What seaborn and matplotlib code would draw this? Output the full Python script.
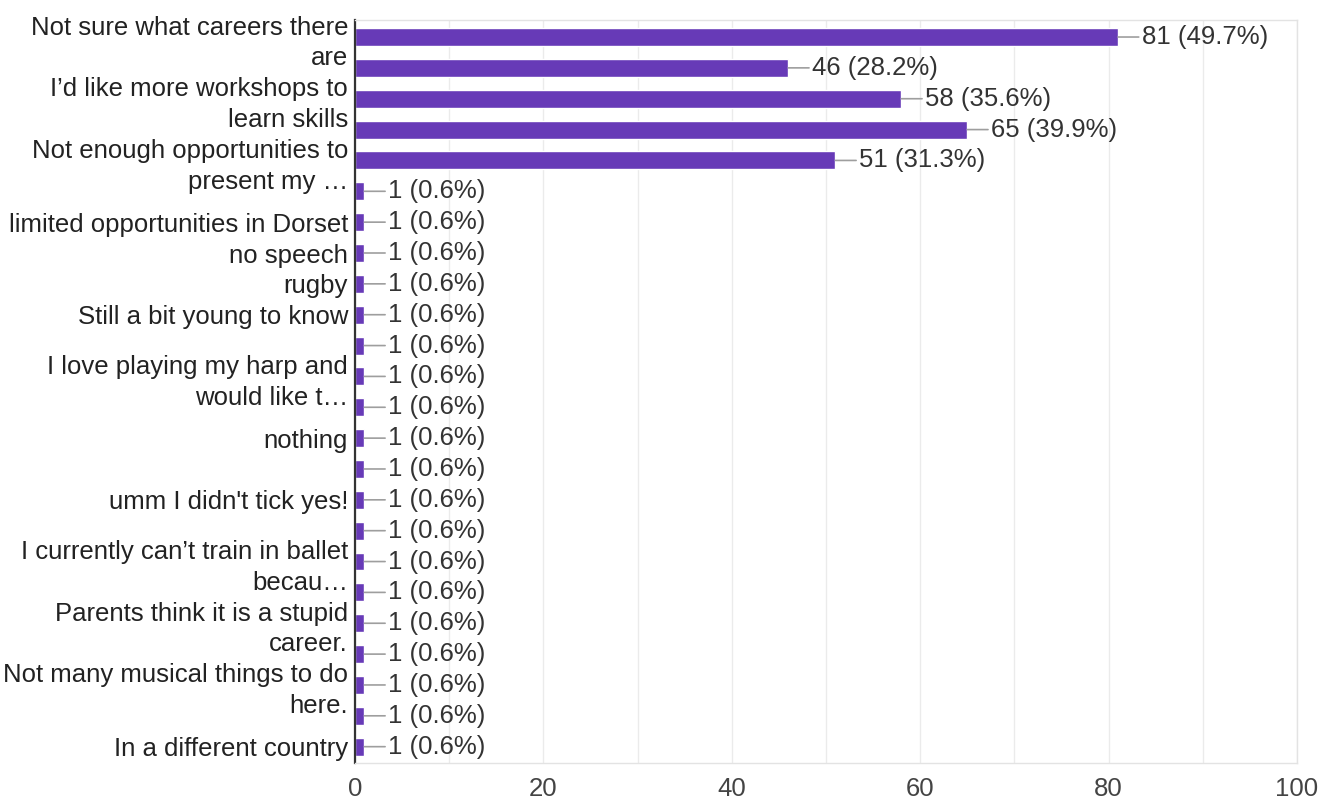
import pandas as pd
import seaborn as sns
import matplotlib.pyplot as plt

# answers as shown on the axis (Google hides some labels -> blank)
labels = ["Not sure what careers there\nare", "",
          "I’d like more workshops to\nlearn skills", "",
          "Not enough opportunities to\npresent my …", "",
          "limited opportunities in Dorset", "no speech", "rugby",
          "Still a bit young to know", "",
          "I love playing my harp and\nwould like t…", "",
          "nothing", "", "umm I didn't tick yes!", "",
          "I currently can’t train in ballet\nbecau…", "",
          "Parents think it is a stupid\ncareer.", "",
          "Not many musical things to do\nhere.", "",
          "In a different country"]
counts = [81, 46, 58, 65, 51, 1, 1, 1, 1, 1, 1, 1, 1, 1, 1, 1, 1, 1, 1, 1,
          1, 1, 1, 1]
respondents = 163
xticks = [0, 20, 40, 60, 80, 100]

sns.set_theme(style="white")
plt.rcParams['font.family'] = ['Liberation Sans', 'DejaVu Sans']

df = pd.DataFrame({'row': range(len(counts)), 'count': counts})

fig, ax = plt.subplots(figsize=(13.27, 8.02), dpi=100)
fig.subplots_adjust(left=0.2675, right=0.9774, top=0.975, bottom=0.0486)

sns.barplot(data=df, x='count', y='row', orient='h', color='#673ab7',
            saturation=1, width=0.58, errorbar=None, ax=ax)

for i, c in enumerate(counts):
    txt = f"{c} ({c / respondents * 100:.1f}%)"
    ax.annotate(txt, xy=(c, i), xytext=(24, 0), textcoords='offset pixels',
                va='center', ha='left', fontsize=18.5, color='#333333',
                arrowprops=dict(arrowstyle='-', color='#9e9e9e', lw=1.2,
                                shrinkA=0, shrinkB=0, relpos=(0, 0.5)))

ax.set_yticks(range(len(labels)))
ax.set_yticklabels(labels, linespacing=1.35)
ax.set_xlim(0, 100)
ax.set_ylim(len(counts) - 0.47, -0.55)
ax.set_xticks(xticks)
ax.set_xticks(range(10, 100, 20), minor=True)
ax.grid(axis='x', which='both', color='#ebebeb', lw=1)
ax.set_axisbelow(True)
ax.set_xlabel('')
ax.set_ylabel('')
ax.tick_params(axis='x', which='both', length=0, pad=10, labelsize=18.5,
               labelcolor='#444444')
ax.tick_params(axis='y', length=0, pad=5, labelsize=18.5,
               labelcolor='#222222')

for s in ['top', 'right', 'bottom']:
    ax.spines[s].set_color('#e3e3e3')
    ax.spines[s].set_linewidth(1)
ax.spines['left'].set_color('#333333')
ax.spines['left'].set_linewidth(1.6)

fig.savefig('out.png', dpi=100)
